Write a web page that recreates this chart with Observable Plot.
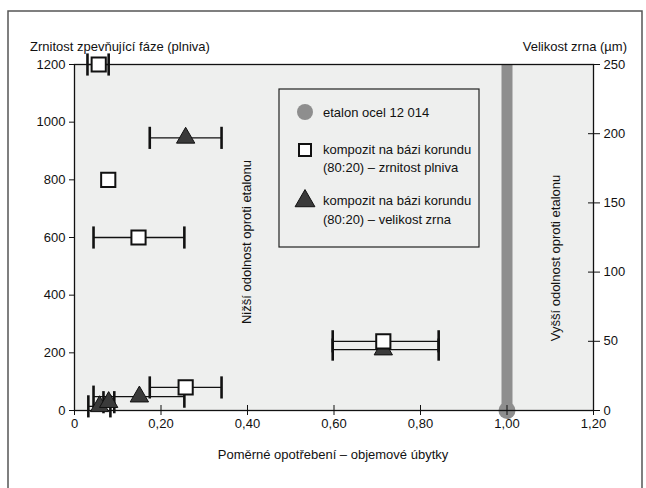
<!DOCTYPE html>
<html><head><meta charset="utf-8">
<script src="https://cdn.jsdelivr.net/npm/d3@7"></script>
<script src="https://cdn.jsdelivr.net/npm/@observablehq/plot@0.6"></script>
<style>
body{margin:0;background:#fff;}
#c{position:relative;width:646px;height:488px;overflow:hidden;}
</style></head><body><div id="c"></div>
<script>
const FONT = "'Liberation Sans Narrow','Liberation Sans',Arial,sans-serif";
// x: relative wear; y: filler granularity (left axis)
const sqX  = [0.056, 0.078, 0.148, 0.257, 0.714];
const sqY  = [1200, 800, 600, 80, 240];
const sqLo = [0.030, null, 0.044, 0.174, 0.597];
const sqHi = [0.079, null, 0.254, 0.340, 0.842];
// grain size (right axis, µm)
const trX  = [0.257, 0.714, 0.150, 0.058, 0.079];
const trY  = [197, 44, 10, 3, 6];
const trLo = [0.174, 0.597, 0.044, 0.032, 0.067];
const trHi = [0.340, 0.842, 0.254, 0.083, 0.092];
// etalon
const etX = [1.0];
const etY = [0];
const xTicks = [0, 0.2, 0.4, 0.6, 0.8, 1.0, 1.2];
const yTicksL = [0, 200, 400, 600, 800, 1000, 1200];
const yTicksR = [0, 50, 100, 150, 200, 250];
const Y_MAX = 1200, R_MAX = 250;
const toL = v => v * Y_MAX / R_MAX;

const squares = sqX.map((x,i)=>({x, y:sqY[i], lo:sqLo[i], hi:sqHi[i]}));
const tris = trX.map((x,i)=>({x, y:toL(trY[i]), lo:trLo[i], hi:trHi[i]}));
const sqErr = squares.filter(d=>d.lo!=null);
const caps = [];
for (const d of [...sqErr, ...tris]) { caps.push({x:d.lo, y:d.y}); caps.push({x:d.hi, y:d.y}); }
const capSym = {draw(ctx, size){ const h = Math.sqrt(size); ctx.moveTo(0,-h/2); ctx.lineTo(0,h/2);} };
const fmtX = d => d === 0 ? "0" : d.toFixed(2).replace(".", ",");
const none = () => "";

const plot = Plot.plot({
  width: 646, height: 488,
  marginLeft: 74, marginRight: 53, marginTop: 64, marginBottom: 78,
  style: {fontFamily: FONT, fontSize: "13px", color: "#111", background: "transparent"},
  x: {domain: [0, 1.2]},
  y: {domain: [0, Y_MAX]},
  marks: [
    Plot.frame({fill: "#eeefee", stroke: null}),
    Plot.ruleX(etX, {x: d=>d, y1: 0, y2: Y_MAX, stroke: "#8e8e8e", strokeWidth: 11}),
    Plot.dot(etX.map((x,i)=>({x, y:etY[i]})), {x:"x", y:"y", r: 8.5, fill: "#8e8e8e", stroke: null}),
    Plot.frame({stroke: "#111", strokeWidth: 1.3}),
    Plot.axisX({ticks: xTicks, tickFormat: fmtX, tickSize: 5, tickPadding: 3, label: null, fontSize: 13}),
    Plot.axisX({ticks: xTicks, tickFormat: none, tickSize: -5, label: null}),
    Plot.axisY({ticks: yTicksL, tickFormat: d => String(d), tickSize: 5, tickPadding: 4, label: null, fontSize: 13}),
    Plot.axisY({anchor: "right", ticks: yTicksR.map(toL), tickFormat: d => String(Math.round(d*R_MAX/Y_MAX)), tickSize: 6, tickPadding: 4, label: null, fontSize: 13}),
    Plot.axisY({anchor: "right", ticks: yTicksR.map(toL), tickFormat: none, tickSize: -6, label: null}),
    Plot.link([...sqErr, ...tris], {x1: "lo", x2: "hi", y1: "y", y2: "y", stroke: "#111", strokeWidth: 1.3}),
    Plot.dot(caps, {x:"x", y:"y", symbol: capSym, r: 12.5, stroke: "#111", strokeWidth: 2.6}),
    Plot.dot(tris, {x:"x", y:"y", symbol: "triangle", r: 6.8, fill: "#3a3a3a", stroke: "#111", strokeWidth: 1}),
    Plot.dot(squares, {x:"x", y:"y", symbol: "square", r: 8.0, fill: "#fff", stroke: "#111", strokeWidth: 2})
  ]
});
document.getElementById("c").appendChild(plot);

const svg = d3.select(plot);
// outer frame
svg.insert("rect", ":first-child").attr("x", 8).attr("y", 11).attr("width", 634).attr("height", 500)
  .attr("fill", "none").attr("stroke", "#555").attr("stroke-width", 1.5);
const T = (x, y, s, anchor="start", rot=0) => {
  const t = svg.append("text").attr("font-family", FONT).attr("font-size", 13).attr("fill", "#111")
    .attr("text-anchor", anchor).attr("dominant-baseline", "central").text(s);
  if (rot) t.attr("transform", `translate(${x},${y}) rotate(${rot})`); else t.attr("x", x).attr("y", y);
  return t;
};
T(30, 46, "Zrnitost zpevňující fáze (plniva)");
T(627, 46, "Velikost zrna (µm)", "end");
T(333, 454, "Poměrné opotřebení – objemové úbytky", "middle");
T(246, 242, "Nižší odolnost oproti etalonu", "middle", -90);
T(555, 258, "Vyšší odolnost oproti etalonu", "middle", -90);
// legend
const g = svg.append("g");
g.append("rect").attr("x", 279).attr("y", 89).attr("width", 200).attr("height", 158)
  .attr("fill", "#eeefee").attr("stroke", "#222").attr("stroke-width", 1.2);
g.append("circle").attr("cx", 305).attr("cy", 112).attr("r", 8).attr("fill", "#8e8e8e");
g.append("rect").attr("x", 299).attr("y", 144).attr("width", 12).attr("height", 12)
  .attr("fill", "#fff").attr("stroke", "#111").attr("stroke-width", 2);
g.append("path").attr("d", d3.symbol(d3.symbolTriangle, 170)()).attr("transform", "translate(305,201)")
  .attr("fill", "#3a3a3a").attr("stroke", "#111");
T(323, 112, "etalon ocel 12 014");
T(323, 149, "kompozit na bázi korundu");
T(323, 167, "(80:20) – zrnitost plniva");
T(323, 200, "kompozit na bázi korundu");
T(323, 219, "(80:20) – velikost zrna");
</script></body></html>
